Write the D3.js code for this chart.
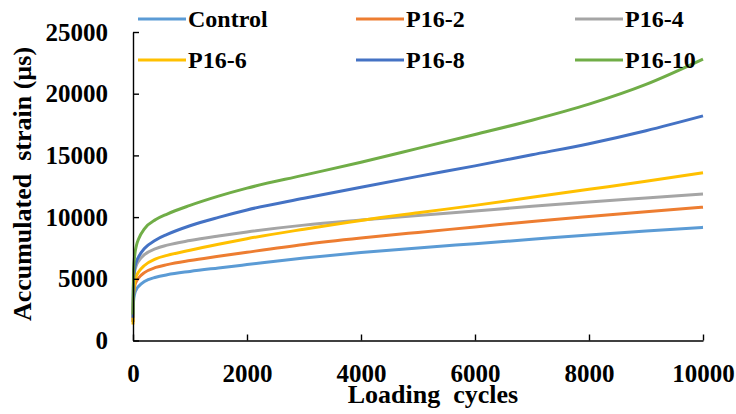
<!DOCTYPE html>
<html>
<head>
<meta charset="utf-8">
<script src="https://cdn.jsdelivr.net/npm/d3@7"></script>
</head>
<body style="margin:0">
<svg id="chart" width="736" height="414" font-family="Times New Roman" font-weight="bold"></svg>
<script>
// Loading cycles at which strain was sampled
const cycles = [0, 10, 30, 60, 100, 200, 400, 600, 1000, 1500, 2000, 3000, 4000, 5000, 6000, 7000, 8000, 9000, 10000];

// Accumulated strain (µs) per specimen
const control = [1500, 3200, 3800, 4150, 4400, 4780, 5130, 5330, 5600, 5880, 6150, 6680, 7130, 7500, 7850, 8200, 8550, 8870, 9170];
const p16_2   = [1500, 3700, 4400, 4800, 5080, 5500, 5920, 6150, 6480, 6820, 7150, 7780, 8300, 8760, 9200, 9650, 10050, 10430, 10800];
const p16_4   = [1500, 4700, 5600, 6100, 6450, 6950, 7450, 7730, 8100, 8470, 8800, 9350, 9760, 10130, 10500, 10870, 11220, 11550, 11880];
const p16_6   = [1300, 3900, 4800, 5250, 5570, 6080, 6620, 6900, 7320, 7800, 8250, 9020, 9730, 10350, 10950, 11600, 12250, 12900, 13590];
const p16_8   = [1850, 4900, 5850, 6400, 6800, 7450, 8150, 8600, 9300, 9980, 10580, 11520, 12420, 13300, 14150, 15050, 15950, 17000, 18200];
const p16_10  = [2100, 5700, 6900, 7700, 8250, 9050, 9800, 10250, 10950, 11700, 12350, 13400, 14450, 15570, 16700, 17850, 19150, 20750, 22800];

const seriesNames  = ["Control", "P16-2", "P16-4", "P16-6", "P16-8", "P16-10"];
const seriesValues = [control, p16_2, p16_4, p16_6, p16_8, p16_10];
const seriesColors = ["#5B9BD5", "#ED7D31", "#A5A5A5", "#FFC000", "#4472C4", "#70AD47"];

const xTicks = [0, 2000, 4000, 6000, 8000, 10000];
const yTicks = [0, 5000, 10000, 15000, 20000, 25000];

const FONT = "Times New Roman";

const svg = d3.select("#chart");
const plot = { left: 133, right: 703, top: 32, bottom: 340.5 };

const x = d3.scaleLinear().domain([0, 10000]).range([plot.left, plot.right]);
const y = d3.scaleLinear().domain([0, 25000]).range([plot.bottom, plot.top]);

// Curves
const line = d3.line()
  .x(d => x(d[0]))
  .y(d => y(d[1]))
  .curve(d3.curveMonotoneX);

seriesValues.forEach((vals, i) => {
  svg.append("path")
    .datum(cycles.map((c, j) => [c, vals[j]]))
    .attr("fill", "none")
    .attr("stroke", seriesColors[i])
    .attr("stroke-width", 3)
    .attr("stroke-linejoin", "round")
    .attr("d", line);
});

// Axes with inward ticks
const xAxis = svg.append("g")
  .attr("transform", `translate(0,${plot.bottom})`)
  .call(d3.axisBottom(x).tickValues(xTicks).tickFormat(d3.format("d")).tickSizeInner(-6).tickSizeOuter(0));
xAxis.selectAll("text")
  .attr("y", 41).attr("dy", 0);

const yAxis = svg.append("g")
  .attr("transform", `translate(${plot.left},0)`)
  .call(d3.axisLeft(y).tickValues(yTicks).tickFormat(d3.format("d")).tickSizeInner(-6).tickSizeOuter(0));
yAxis.selectAll("text")
  .attr("x", -25);

[xAxis, yAxis].forEach(g => {
  g.attr("font-family", FONT).attr("font-size", 25);
  g.selectAll("text")
    .attr("font-family", FONT).attr("font-size", 25).attr("font-weight", "bold")
    .attr("fill", "#000");
  g.select(".domain").attr("stroke", "#000").attr("stroke-width", 1.4);
  g.selectAll(".tick line").attr("stroke", "#000").attr("stroke-width", 1.4);
});

// Axis titles
svg.append("text")
  .attr("x", 433).attr("y", 403)
  .attr("text-anchor", "middle")
  .attr("font-family", FONT).attr("font-weight", "bold").attr("font-size", 26)
  .style("white-space", "pre")
  .text("Loading  cycles");

svg.append("text")
  .attr("transform", "translate(31,184) rotate(-90)")
  .attr("text-anchor", "middle")
  .attr("font-family", FONT).attr("font-weight", "bold").attr("font-size", 26)
  .style("white-space", "pre")
  .text("Accumulated  strain (µs)");

// Legend: two rows of three
const legendCols = [138, 356, 575];
const legendRows = [19, 60];
seriesNames.forEach((name, i) => {
  const lx = legendCols[i % 3];
  const ly = legendRows[Math.floor(i / 3)];
  const g = svg.append("g").attr("transform", `translate(${lx},${ly})`);
  g.append("line")
    .attr("x1", 0).attr("x2", 48)
    .attr("y1", 0).attr("y2", 0)
    .attr("stroke", seriesColors[i])
    .attr("stroke-width", 3);
  g.append("text")
    .attr("x", 50).attr("y", 8)
    .attr("font-family", FONT).attr("font-weight", "bold").attr("font-size", 24)
    .text(name);
});
</script>
</body>
</html>
